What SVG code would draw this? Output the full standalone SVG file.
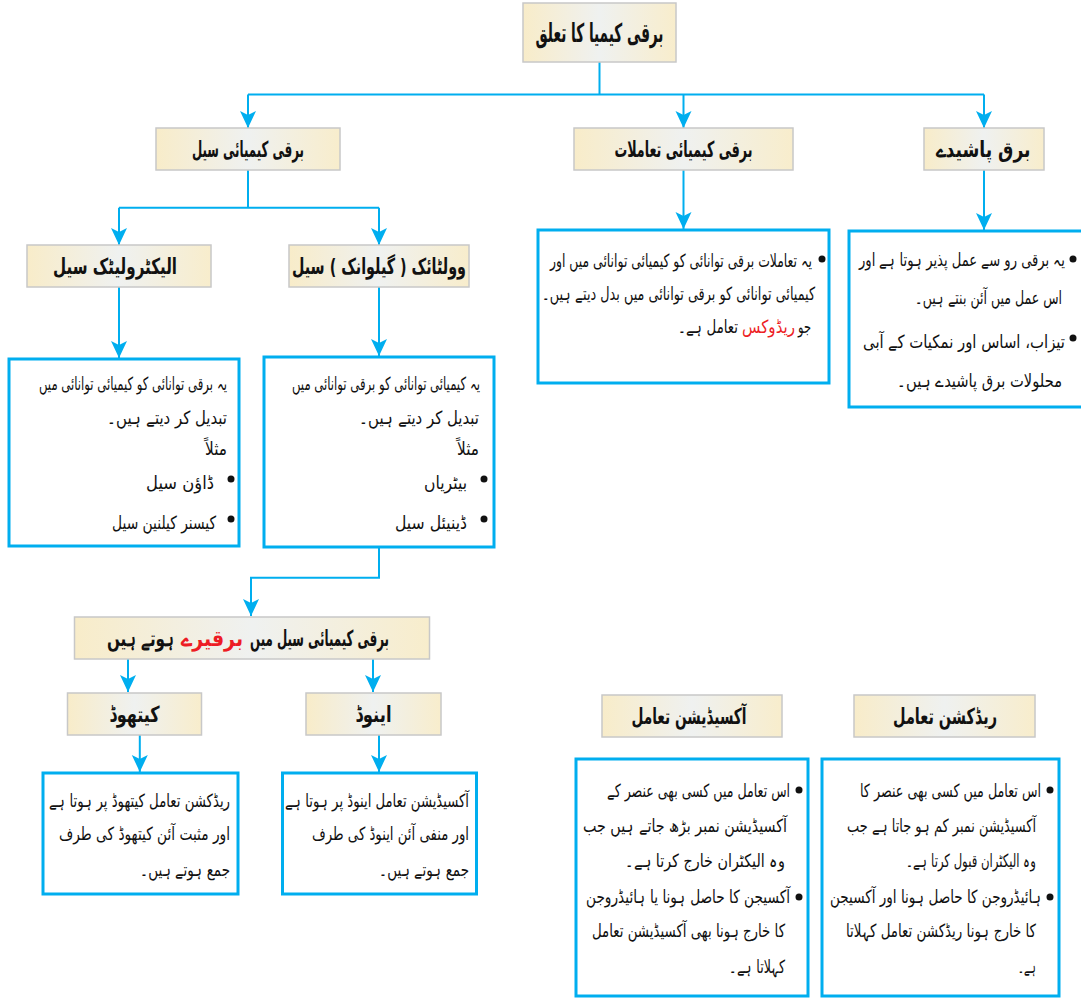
<svg xmlns="http://www.w3.org/2000/svg" width="1081" height="998" viewBox="0 0 1081 998">
<defs>
<linearGradient id="hg" x1="0" y1="0" x2="1" y2="0">
<stop offset="0" stop-color="#f8ecc9"/>
<stop offset="0.5" stop-color="#eff1f0"/>
<stop offset="1" stop-color="#f8edcc"/>
</linearGradient>
<marker id="ar" markerUnits="userSpaceOnUse" markerWidth="18" markerHeight="18" viewBox="0 0 18 18" refX="17" refY="9" orient="auto">
<path d="M0,1 L17,9 L0,17 L4,9 Z" fill="#00aeef"/>
</marker>
<style>
.hdr{fill:url(#hg);stroke:#c8c8c8;stroke-width:1.5}
.tb{fill:#ffffff;stroke:#00aeef;stroke-width:3}
.ht{font-family:"DejaVu Sans",sans-serif;font-size:22px;font-weight:bold;fill:#111;text-anchor:middle}
.he{font-family:"DejaVu Sans",sans-serif;font-size:22px;font-weight:bold;fill:#111;text-anchor:end}
.bt{font-family:"DejaVu Sans",sans-serif;font-size:18px;fill:#111;text-anchor:end}
.dot{fill:#111}
.red{fill:#ed1c24}
.cn{fill:none;stroke:#00aeef;stroke-width:2}
</style>
</defs>
<rect width="1081" height="998" fill="#ffffff"/>

<g id="connectors">
<path class="cn" d="M599.5,62 V94.5"/>
<path class="cn" d="M248,94.5 H984"/>
<path class="cn" d="M248,94.5 V128" marker-end="url(#ar)"/>
<path class="cn" d="M683.5,94.5 V128" marker-end="url(#ar)"/>
<path class="cn" d="M984,94.5 V128" marker-end="url(#ar)"/>
<path class="cn" d="M248,170 V207.7"/>
<path class="cn" d="M119,207.7 H379"/>
<path class="cn" d="M119,207.7 V245" marker-end="url(#ar)"/>
<path class="cn" d="M379,207.7 V245" marker-end="url(#ar)"/>
<path class="cn" d="M683.5,170 V229" marker-end="url(#ar)"/>
<path class="cn" d="M984,170 V230" marker-end="url(#ar)"/>
<path class="cn" d="M119,287 V358" marker-end="url(#ar)"/>
<path class="cn" d="M379,287 V356" marker-end="url(#ar)"/>
<path class="cn" d="M379,547 V577.7 H251 V616" marker-end="url(#ar)"/>
<path class="cn" d="M128,659 V692" marker-end="url(#ar)"/>
<path class="cn" d="M373,659 V692" marker-end="url(#ar)"/>
<path class="cn" d="M139.8,735 V772" marker-end="url(#ar)"/>
<path class="cn" d="M379,735 V772" marker-end="url(#ar)"/>
</g>

<g id="root">
<rect class="hdr" x="523" y="3" width="153" height="59"/>
<text class="ht" x="599.5" y="42" style="font-size:26px" textLength="128" lengthAdjust="spacingAndGlyphs">برقی کیمیا کا تعلق</text>
</g>

<g id="cell">
<rect class="hdr" x="156" y="128" width="184" height="42"/>
<text class="ht" x="248" y="157" textLength="112" lengthAdjust="spacingAndGlyphs">برقی کیمیائی سیل</text>
</g>

<g id="reactions">
<rect class="hdr" x="574" y="128" width="219" height="42"/>
<text class="ht" x="683.5" y="157" textLength="138" lengthAdjust="spacingAndGlyphs">برقی کیمیائی تعاملات</text>
</g>

<g id="electrolytes">
<rect class="hdr" x="924" y="128" width="120" height="42"/>
<text class="ht" x="983" y="157" textLength="95" lengthAdjust="spacingAndGlyphs">برق پاشیدے</text>
</g>

<g id="electrolytic">
<rect class="hdr" x="27" y="245" width="184" height="42"/>
<text class="ht" x="115" y="274" textLength="124" lengthAdjust="spacingAndGlyphs">الیکٹرولیٹک سیل</text>
</g>

<g id="voltaic">
<rect class="hdr" x="289" y="245" width="180" height="42"/>
<text class="ht" x="379" y="274" textLength="174" lengthAdjust="spacingAndGlyphs">وولٹائک ( گیلوانک ) سیل</text>
</g>

<g id="reactions-text">
<rect class="tb" x="538" y="230" width="291" height="153"/>
<circle class="dot" cx="822" cy="259" r="3.5"/>
<text class="bt" x="812" y="267" textLength="262" lengthAdjust="spacingAndGlyphs">یہ تعاملات برقی توانائی کو کیمیائی توانائی میں اور</text>
<text class="bt" x="815" y="300" textLength="273" lengthAdjust="spacingAndGlyphs">کیمیائی توانائی کو برقی توانائی میں بدل دیتے ہیں۔</text>
<text class="bt" x="811" y="333" textLength="13" lengthAdjust="spacingAndGlyphs">جو</text>
<text class="bt red" x="795" y="333" textLength="53" lengthAdjust="spacingAndGlyphs">ریڈوکس</text>
<text class="bt" x="738" y="333" textLength="60" lengthAdjust="spacingAndGlyphs">تعامل ہے۔</text>
</g>

<g id="electrolytes-text">
<path class="tb" d="M1081,231 H849 V407 H1081"/>
<circle class="dot" cx="1073" cy="259" r="3.5"/>
<text class="bt" x="1065" y="266" textLength="206" lengthAdjust="spacingAndGlyphs">یہ برقی رو سے عمل پذیر ہوتا ہے اور</text>
<text class="bt" x="1062" y="304" textLength="147" lengthAdjust="spacingAndGlyphs">اس عمل میں آئن بنتے ہیں۔</text>
<circle class="dot" cx="1073" cy="338" r="3.5"/>
<text class="bt" x="1065" y="348" textLength="202" lengthAdjust="spacingAndGlyphs">تیزاب، اساس اور نمکیات کے آبی</text>
<text class="bt" x="1062" y="387" textLength="165" lengthAdjust="spacingAndGlyphs">محلولات برق پاشیدے ہیں۔</text>
</g>

<g id="electrolytic-text">
<rect class="tb" x="9" y="359" width="230" height="187"/>
<text class="bt" x="227" y="390" textLength="188" lengthAdjust="spacingAndGlyphs">یہ برقی توانائی کو کیمیائی توانائی میں</text>
<text class="bt" x="227" y="424" textLength="120" lengthAdjust="spacingAndGlyphs">تبدیل کر دیتے ہیں۔</text>
<text class="bt" x="227" y="455" textLength="22" lengthAdjust="spacingAndGlyphs">مثلاً</text>
<circle class="dot" cx="231" cy="479" r="3.5"/>
<text class="bt" x="214" y="489" textLength="68" lengthAdjust="spacingAndGlyphs">ڈاؤن سیل</text>
<circle class="dot" cx="231" cy="519" r="3.5"/>
<text class="bt" x="216" y="529" textLength="104" lengthAdjust="spacingAndGlyphs">کیسنر کیلنین سیل</text>
</g>

<g id="voltaic-text">
<rect class="tb" x="264" y="357" width="230" height="190"/>
<text class="bt" x="480" y="390" textLength="188" lengthAdjust="spacingAndGlyphs">یہ کیمیائی توانائی کو برقی توانائی میں</text>
<text class="bt" x="479" y="424" textLength="120" lengthAdjust="spacingAndGlyphs">تبدیل کر دیتے ہیں۔</text>
<text class="bt" x="479" y="455" textLength="22" lengthAdjust="spacingAndGlyphs">مثلاً</text>
<circle class="dot" cx="484" cy="479" r="3.5"/>
<text class="bt" x="467" y="489" textLength="43" lengthAdjust="spacingAndGlyphs">بیٹریاں</text>
<circle class="dot" cx="484" cy="519" r="3.5"/>
<text class="bt" x="467" y="529" textLength="72" lengthAdjust="spacingAndGlyphs">ڈینیئل سیل</text>
</g>

<g id="electrodes">
<rect class="hdr" x="74.5" y="617" width="355" height="42"/>
<text class="he" x="389" y="646" textLength="139" lengthAdjust="spacingAndGlyphs">برقی کیمیائی سیل میں</text>
<text class="he red" x="243" y="646" textLength="62" lengthAdjust="spacingAndGlyphs">برقیرے</text>
<text class="he" x="174" y="646" textLength="67" lengthAdjust="spacingAndGlyphs">ہوتے ہیں</text>
</g>

<g id="cathode">
<rect class="hdr" x="67.5" y="693" width="134" height="42"/>
<text class="ht" x="134.6" y="722" textLength="50" lengthAdjust="spacingAndGlyphs">کیتھوڈ</text>
</g>

<g id="anode">
<rect class="hdr" x="306" y="693" width="135" height="42"/>
<text class="ht" x="373.5" y="722" textLength="36" lengthAdjust="spacingAndGlyphs">اینوڈ</text>
</g>

<g id="cathode-text">
<rect class="tb" x="43" y="773" width="195" height="121"/>
<text class="bt" x="230" y="807" textLength="181" lengthAdjust="spacingAndGlyphs">ریڈکشن تعامل کیتھوڈ پر ہوتا ہے</text>
<text class="bt" x="230" y="840" textLength="171" lengthAdjust="spacingAndGlyphs">اور مثبت آئن کیتھوڈ کی طرف</text>
<text class="bt" x="230" y="876" textLength="90" lengthAdjust="spacingAndGlyphs">جمع ہوتے ہیں۔</text>
</g>

<g id="anode-text">
<rect class="tb" x="282.5" y="773" width="194" height="121"/>
<text class="bt" x="469" y="807" textLength="184" lengthAdjust="spacingAndGlyphs">آکسیڈیشن تعامل اینوڈ پر ہوتا ہے</text>
<text class="bt" x="469" y="840" textLength="157" lengthAdjust="spacingAndGlyphs">اور منفی آئن اینوڈ کی طرف</text>
<text class="bt" x="469" y="876" textLength="90" lengthAdjust="spacingAndGlyphs">جمع ہوتے ہیں۔</text>
</g>

<g id="oxidation">
<rect class="hdr" x="602" y="695" width="180" height="42"/>
<text class="ht" x="689" y="724" textLength="115" lengthAdjust="spacingAndGlyphs">آکسیڈیشن تعامل</text>
</g>

<g id="reduction">
<rect class="hdr" x="854" y="695" width="181" height="42"/>
<text class="ht" x="945" y="724" textLength="104" lengthAdjust="spacingAndGlyphs">ریڈکشن تعامل</text>
</g>

<g id="oxidation-text">
<rect class="tb" x="576" y="759" width="232" height="237"/>
<circle class="dot" cx="799" cy="790" r="3.5"/>
<text class="bt" x="790" y="797" textLength="183" lengthAdjust="spacingAndGlyphs">اس تعامل میں کسی بھی عنصر کے</text>
<text class="bt" x="787" y="832" textLength="204" lengthAdjust="spacingAndGlyphs">آکسیڈیشن نمبر بڑھ جاتے ہیں جب</text>
<text class="bt" x="785" y="867" textLength="160" lengthAdjust="spacingAndGlyphs">وہ الیکٹران خارج کرتا ہے۔</text>
<circle class="dot" cx="799" cy="897" r="3.5"/>
<text class="bt" x="790" y="903" textLength="204" lengthAdjust="spacingAndGlyphs">آکسیجن کا حاصل ہونا یا ہائیڈروجن</text>
<text class="bt" x="785" y="937" textLength="193" lengthAdjust="spacingAndGlyphs">کا خارج ہونا بھی آکسیڈیشن تعامل</text>
<text class="bt" x="785" y="973" textLength="56" lengthAdjust="spacingAndGlyphs">کہلاتا ہے۔</text>
</g>

<g id="reduction-text">
<rect class="tb" x="822" y="759" width="237" height="237"/>
<circle class="dot" cx="1050" cy="790" r="3.5"/>
<text class="bt" x="1041" y="797" textLength="181" lengthAdjust="spacingAndGlyphs">اس تعامل میں کسی بھی عنصر کا</text>
<text class="bt" x="1036" y="832" textLength="189" lengthAdjust="spacingAndGlyphs">آکسیڈیشن نمبر کم ہو جاتا ہے جب</text>
<text class="bt" x="1036" y="867" textLength="130" lengthAdjust="spacingAndGlyphs">وہ الیکٹران قبول کرتا ہے۔</text>
<circle class="dot" cx="1050" cy="897" r="3.5"/>
<text class="bt" x="1041" y="903" textLength="211" lengthAdjust="spacingAndGlyphs">ہائیڈروجن کا حاصل ہونا اور آکسیجن</text>
<text class="bt" x="1036" y="937" textLength="190" lengthAdjust="spacingAndGlyphs">کا خارج ہونا ریڈکشن تعامل کہلاتا</text>
<text class="bt" x="1036" y="973" textLength="18" lengthAdjust="spacingAndGlyphs">ہے۔</text>
</g>
</svg>
